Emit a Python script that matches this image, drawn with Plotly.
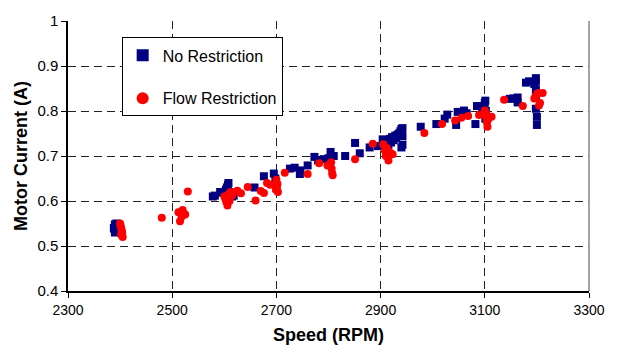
import plotly.graph_objects as go

# No Restriction (speed RPM, current A)
nr_speed = [2388, 2390, 2390, 2391, 2392, 2389, 2393,
            2578, 2582, 2592, 2598, 2603, 2605, 2607, 2608, 2610, 2612, 2615, 2618,
            2658, 2676, 2695, 2698, 2726, 2735, 2745, 2746, 2760, 2773, 2780, 2791, 2800, 2804, 2810,
            2832, 2851, 2860, 2879, 2895, 2904, 2908, 2912, 2915, 2918, 2920, 2922, 2925, 2928,
            2930, 2932, 2935, 2938, 2940, 2942, 2942, 2942, 2940,
            2977, 3007, 3023, 3028, 3045, 3048, 3060, 3065, 3082, 3085, 3095, 3100, 3101, 3101, 3102,
            3148, 3155, 3163, 3163, 3179, 3185, 3195, 3198, 3198, 3198, 3198, 3198, 3200, 3200]
nr_current = [0.540, 0.530, 0.548, 0.535, 0.545, 0.538, 0.550,
              0.610, 0.612, 0.620, 0.618, 0.625, 0.630, 0.636, 0.640, 0.620, 0.615, 0.610, 0.612,
              0.630, 0.655, 0.661, 0.650, 0.672, 0.674, 0.660, 0.668, 0.679, 0.698, 0.690, 0.693, 0.695, 0.709, 0.700,
              0.700, 0.729, 0.706, 0.719, 0.722, 0.737, 0.728, 0.735, 0.725, 0.738, 0.730, 0.742, 0.735, 0.745,
              0.740, 0.747, 0.750, 0.755, 0.760, 0.762, 0.744, 0.725, 0.719,
              0.765, 0.771, 0.783, 0.792, 0.769, 0.798, 0.801, 0.795, 0.771, 0.811, 0.805, 0.818, 0.823, 0.783, 0.800,
              0.827, 0.828, 0.830, 0.819, 0.863, 0.866, 0.860, 0.873, 0.866, 0.848, 0.830, 0.805, 0.787, 0.769]

# Flow Restriction (speed RPM, current A)
fr_speed = [2400, 2401, 2402, 2403, 2404, 2402, 2405,
            2480, 2512, 2515, 2518, 2520, 2522, 2525, 2530,
            2600, 2602, 2604, 2606, 2608, 2610, 2612, 2615,
            2625, 2632, 2645, 2660, 2670, 2676, 2682, 2688, 2699, 2700, 2701, 2702, 2703,
            2716, 2760, 2782, 2798, 2805, 2806, 2807, 2808,
            2851, 2885, 2905, 2908, 2910, 2912, 2915, 2918, 2923,
            2984, 3018, 3043, 3055, 3068, 3089, 3100, 3102, 3103, 3104, 3105, 3106, 3113,
            3137, 3173, 3195, 3198, 3200, 3202, 3204, 3206, 3211]
fr_current = [0.550, 0.545, 0.540, 0.535, 0.530, 0.525, 0.520,
              0.563, 0.575, 0.555, 0.565, 0.580, 0.572, 0.570, 0.621,
              0.610, 0.605, 0.598, 0.590, 0.615, 0.600, 0.620, 0.612,
              0.623, 0.617, 0.631, 0.601, 0.622, 0.618, 0.640, 0.636, 0.625, 0.647, 0.630, 0.638, 0.620,
              0.663, 0.660, 0.684, 0.679, 0.686, 0.672, 0.662, 0.657,
              0.693, 0.727, 0.726, 0.712, 0.700, 0.718, 0.690, 0.708, 0.704,
              0.751, 0.771, 0.779, 0.785, 0.789, 0.791, 0.801, 0.795, 0.785, 0.775, 0.765, 0.780, 0.787,
              0.825, 0.811, 0.828, 0.832, 0.836, 0.840, 0.812, 0.818, 0.840]

x_ticks = [2300, 2500, 2700, 2900, 3100, 3300]
y_ticks = [0.4, 0.5, 0.6, 0.7, 0.8, 0.9, 1.0]
y_ticktext = ["0.4", "0.5", "0.6", "0.7", "0.8", "0.9", "1"]

FONT = "Liberation Sans, Arial, sans-serif"

fig = go.Figure()
fig.add_trace(go.Scatter(x=nr_speed, y=nr_current, mode="markers", name="No Restriction",
                         legendgroup="a",
                         marker=dict(symbol="square", size=8, color="#000080")))
fig.add_trace(go.Scatter(x=fr_speed, y=fr_current, mode="markers", name="Flow Restriction",
                         legendgroup="b",
                         marker=dict(symbol="circle", size=8, color="#FF0000")))

grid_dash = "8px,5px"
fig.update_layout(
    width=617, height=356,
    margin=dict(l=68, r=16, t=13, b=65),
    paper_bgcolor="white", plot_bgcolor="white",
    font=dict(family=FONT, color="black"),
    showlegend=True,
    legend=dict(x=0.103, y=0.939, xanchor="left", yanchor="top",
                bgcolor="white", bordercolor="black", borderwidth=1,
                font=dict(size=16, family=FONT),
                traceorder="grouped", tracegroupgap=19,
                itemsizing="constant", itemwidth=30),
    xaxis=dict(range=[2300, 3300], tickvals=x_ticks,
               showgrid=True, gridcolor="#222222", griddash=grid_dash, gridwidth=1,
               showline=True, linecolor="black", linewidth=1.5, mirror=False,
               ticks="outside", ticklen=5, tickcolor="black",
               tickfont=dict(family=FONT, size=14, color="black"), zeroline=False,
               title=dict(text="<b>Speed (RPM)</b>", font=dict(size=18), standoff=12)),
    yaxis=dict(range=[0.4, 1.0], tickvals=y_ticks, ticktext=y_ticktext,
               showgrid=True, gridcolor="#222222", griddash=grid_dash, gridwidth=1,
               showline=True, linecolor="black", linewidth=1.5,
               ticks="outside", ticklen=5, tickcolor="black",
               tickfont=dict(family=FONT, size=15, color="black"), zeroline=False,
               title=dict(text="<b>Motor Current (A)</b>", font=dict(size=18), standoff=5)),
    shapes=[dict(type="line", xref="paper", yref="paper", x0=1, x1=1, y0=0, y1=1,
                 line=dict(color="#888888", width=1.5))],
)
fig.write_html("out.html")
